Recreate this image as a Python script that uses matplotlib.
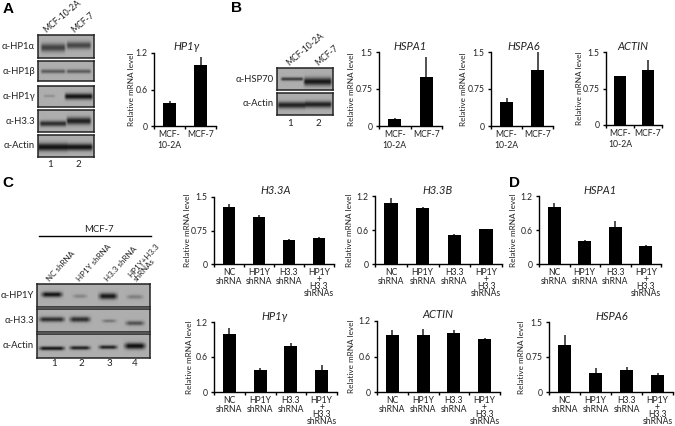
import numpy as np
import matplotlib
matplotlib.use("Agg")
import matplotlib.pyplot as plt

W, H = 675, 426

plt.rcParams['font.family'] = ['Lato', 'DejaVu Sans']

two_cells = ["MCF-\n10-2A", "MCF-7"]
four_a = ["NC\nshRNA", "HP1Y\nshRNA", "H3.3\nshRNA", "HP1Y\n+\nH3.3\nshRNAs"]

hp1y_a = [0.37, 1.0]
hp1y_a_err = [0.04, 0.13]
hspa1_b = [0.14, 1.0]
hspa1_b_err = [0.02, 0.39]
hspa6_b = [0.48, 1.14]
hspa6_b_err = [0.09, 0.38]
actin_b = [1.0, 1.13]
actin_b_err = [0.01, 0.2]
h33a_c = [1.27, 1.06, 0.54, 0.58]
h33a_c_err = [0.07, 0.03, 0.03, 0.02]
h33b_c = [1.07, 0.98, 0.52, 0.61]
h33b_c_err = [0.1, 0.02, 0.01, 0.01]
hp1y_c = [1.0, 0.38, 0.79, 0.38]
hp1y_c_err = [0.09, 0.04, 0.05, 0.09]
actin_c = [0.96, 0.97, 1.0, 0.89]
actin_c_err = [0.08, 0.1, 0.04, 0.02]
hspa1_d = [1.0, 0.4, 0.66, 0.32]
hspa1_d_err = [0.08, 0.03, 0.1, 0.01]
hspa6_d = [1.0, 0.4, 0.48, 0.36]
hspa6_d_err = [0.22, 0.12, 0.06, 0.05]

# blot bands: lane centre, half width, height in the strip, sigma, darkness
bands_hp1a = [(0.27, 0.24, 0.55, 0.18, 0.42), (0.73, 0.24, 0.45, 0.16, 0.4)]
bands_hp1b = [(0.27, 0.24, 0.52, 0.1, 0.32), (0.73, 0.24, 0.52, 0.1, 0.32)]
bands_hp1g = [(0.2, 0.12, 0.5, 0.06, 0.12), (0.73, 0.27, 0.52, 0.14, 0.6)]
bands_h33 = [(0.27, 0.26, 0.62, 0.13, 0.5), (0.73, 0.24, 0.5, 0.17, 0.55)]
bands_actin = [(0.27, 0.3, 0.55, 0.18, 0.6), (0.73, 0.27, 0.55, 0.16, 0.6)]
bands_hsp70 = [(0.27, 0.22, 0.5, 0.08, 0.45), (0.73, 0.27, 0.62, 0.18, 0.58)]
bands_actin_b = [(0.27, 0.28, 0.55, 0.15, 0.55), (0.73, 0.27, 0.52, 0.15, 0.55)]
bands_c_hp1 = [(0.13, 0.11, 0.48, 0.11, 0.6), (0.38, 0.08, 0.55, 0.08, 0.16),
               (0.63, 0.1, 0.55, 0.13, 0.58), (0.87, 0.09, 0.58, 0.09, 0.18)]
bands_c_h33 = [(0.13, 0.13, 0.45, 0.11, 0.5), (0.38, 0.11, 0.45, 0.12, 0.5),
               (0.64, 0.08, 0.52, 0.07, 0.22), (0.87, 0.1, 0.62, 0.1, 0.36)]
bands_c_actin = [(0.13, 0.13, 0.6, 0.08, 0.6), (0.38, 0.11, 0.58, 0.08, 0.55),
                 (0.63, 0.1, 0.55, 0.08, 0.55), (0.87, 0.11, 0.5, 0.13, 0.62)]


def px_axes(x0, y0, x1, y1):
    return fig.add_axes([x0 / W, 1 - y1 / H, (x1 - x0) / W, (y1 - y0) / H])


def txt(x, y, s, **kw):
    kw.setdefault("ha", "center")
    kw.setdefault("va", "center")
    kw.setdefault("fontsize", 7)
    kw.setdefault("color", "#222222")
    fig.text(x / W, 1 - y / H, s, **kw)


def blot(x0, y0, x1, y1, bands, label):
    ax = px_axes(x0, y0, x1, y1)
    xx, yy = np.meshgrid(np.linspace(0, 1, 120), np.linspace(0, 1, 50))
    dark_map = np.zeros(xx.shape)
    for cx, hw, cy, sig, dark in bands:
        profile = np.clip((hw - np.abs(xx - cx)) / 0.05, 0, 1)
        dark_map = np.maximum(dark_map, dark * profile * np.exp(-((yy - cy) / sig) ** 2))
    ax.imshow(np.clip(0.68 - dark_map, 0, 1), cmap="gray", vmin=0, vmax=1, aspect="auto",
              extent=[0, 1, 1, 0], interpolation="bilinear")
    ax.set_xticks([])
    ax.set_yticks([])
    for s in ax.spines.values():
        s.set_linewidth(1.1)
        s.set_color("#222222")
    txt(x0 - 3, (y0 + y1) / 2, label, ha="right", fontsize=6.8)


def bars(x0, y0, x1, y1, vals, errs, ymax, ticks, labels, title, ylab_x, title_x=None):
    ax = px_axes(x0, y0, x1, y1)
    pos = np.arange(len(vals))
    ax.bar(pos, vals, width=0.42, color="black")
    ax.errorbar(pos, vals, yerr=[np.zeros(len(errs)), errs], fmt="none",
                ecolor="#222222", elinewidth=1.1, capsize=0)
    ax.set_xlim(-0.5, len(vals) - 0.5)
    ax.set_ylim(0, ymax)
    ax.set_yticks(ticks)
    ax.set_yticklabels([str(t) for t in ticks], fontsize=6.2, color="#222222")
    ax.set_xticks(np.arange(len(vals) + 1) - 0.5)
    ax.set_xticklabels([])
    ax.tick_params(axis="both", length=2, width=1, pad=2.5)
    ax.spines["top"].set_visible(False)
    ax.spines["right"].set_visible(False)
    ax.spines["left"].set_linewidth(1)
    ax.spines["bottom"].set_linewidth(1)
    ax.patch.set_alpha(0)
    step = (x1 - x0) / len(vals)
    for i, lab in enumerate(labels):
        # spacing differs: roomy in the two bar charts, tight in the four line labels
        if lab.count("\n") == 3:
            ls = 0.72
        elif len(vals) == 2:
            ls = 1.35
        else:
            ls = 0.95
        txt(x0 + step * (i + 0.5), y1 + 4, lab, va="top", fontsize=6.2, linespacing=ls)
    if title_x is None:
        title_x = (x0 + x1) / 2
    txt(title_x, y0 - 6, title, style="italic", fontsize=8)
    txt(ylab_x, (y0 + y1) / 2, "Relative mRNA level", rotation=90, fontsize=5.9)


fig = plt.figure(figsize=(W / 100, H / 100), dpi=100)

# panel letters
for x, y, s in [(8, 9, "A"), (236, 8, "B"), (8, 183, "C"), (514, 183, "D")]:
    txt(x, y, s, family="Liberation Sans", weight="bold", fontsize=11, color="black")

# panel A blots
for y0, y1, b, l in [(35, 58, bands_hp1a, "α-HP1α"), (61, 81, bands_hp1b, "α-HP1β"),
                     (86, 107, bands_hp1g, "α-HP1γ"), (110, 132, bands_h33, "α-H3.3"),
                     (135, 157, bands_actin, "α-Actin")]:
    blot(38, y0, 94, y1, b, l)
txt(48, 35, "MCF-10-2A", rotation=40, ha="left", va="bottom", rotation_mode="anchor", fontsize=6.2)
txt(76, 35, "MCF-7", rotation=40, ha="left", va="bottom", rotation_mode="anchor", fontsize=6.2)
txt(50, 165, "1")
txt(78, 165, "2")

# panel B blots
blot(277, 68, 333, 90, bands_hsp70, "α-HSP70")
blot(277, 93, 333, 115, bands_actin_b, "α-Actin")
txt(291, 68, "MCF-10-2A", rotation=40, ha="left", va="bottom", rotation_mode="anchor", fontsize=6.2)
txt(320, 68, "MCF-7", rotation=40, ha="left", va="bottom", rotation_mode="anchor", fontsize=6.2)
txt(290, 123, "1")
txt(318, 123, "2")

# panel C blots
blot(37, 284, 150, 307, bands_c_hp1, "α-HP1Y")
blot(37, 309, 150, 332, bands_c_h33, "α-H3.3")
blot(37, 334, 150, 358, bands_c_actin, "α-Actin")
txt(99, 230, "MCF-7", fontsize=6.8)
fig.add_artist(plt.Line2D([39 / W, 151 / W], [1 - 235.5 / H, 1 - 235.5 / H], color="black", lw=1))
for x, s in [(51, "NC shRNA"), (81, "HP1Y shRNA"), (109, "H3.3 shRNA"),
             (137, "HP1Y+H3.3\nshRNAs")]:
    txt(x, 283, s, rotation=48, ha="left", va="bottom", rotation_mode="anchor",
        fontsize=5.8, linespacing=0.85)
for x, s in [(54, "1"), (81, "2"), (109, "3"), (135, "4")]:
    txt(x, 364, s)

# bar charts
bars(154, 53, 216, 126, hp1y_a, hp1y_a_err, 1.2, [0, 0.6, 1.2], two_cells, "HP1γ", 132, title_x=187)
bars(379, 52, 442, 126, hspa1_b, hspa1_b_err, 1.5, [0, 0.75, 1.5], two_cells, "HSPA1", 352, title_x=410)
bars(491, 52, 553, 126, hspa6_b, hspa6_b_err, 1.5, [0, 0.75, 1.5], two_cells, "HSPA6", 464, title_x=524)
bars(606, 52, 662, 125, actin_b, actin_b_err, 1.5, [0, 0.75, 1.5], two_cells, "ACTIN", 579, title_x=633)
bars(214, 197, 334, 264, h33a_c, h33a_c_err, 1.5, [0, 0.75, 1.5], four_a, "H3.3A", 187, title_x=276)
bars(375, 196, 502, 264, h33b_c, h33b_c_err, 1.2, [0, 0.6, 1.2], four_a, "H3.3B", 349, title_x=438)
bars(214, 322, 337, 392, hp1y_c, hp1y_c_err, 1.2, [0, 0.6, 1.2], four_a, "HP1γ", 190, title_x=275)
bars(377, 321, 500, 392, actin_c, actin_c_err, 1.2, [0, 0.6, 1.2], four_a, "ACTIN", 352, title_x=438)
bars(539, 196, 661, 264, hspa1_d, hspa1_d_err, 1.2, [0, 0.6, 1.2], four_a, "HSPA1", 514, title_x=600)
bars(549, 322, 673, 392, hspa6_d, hspa6_d_err, 1.5, [0, 0.75, 1.5], four_a, "HSPA6", 521, title_x=612)

fig.savefig("out.png", dpi=100)
